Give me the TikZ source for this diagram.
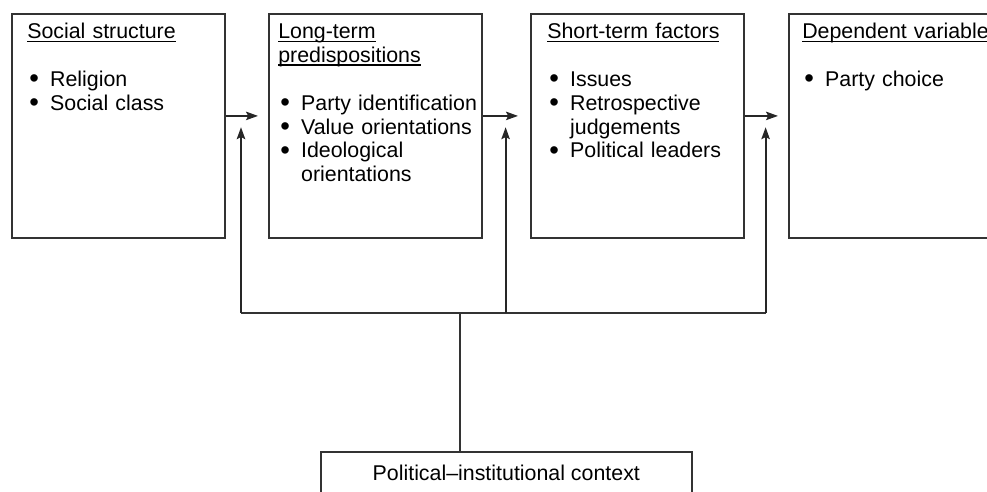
\documentclass[tikz,border=0pt]{standalone}
\usepackage{fontspec}
\setmainfont{Liberation Sans}
\usetikzlibrary{arrows.meta}

% underlined box heading and list bullets
\newcommand\boxhead[1]{\leavevmode\setbox0\hbox{#1}\rlap{\rule[-0.15em]{\wd0}{0.07em}}\box0}
\newcommand\itm{\makebox[1.07em][l]{\hspace{0.1em}\smash{\raisebox{-0.9pt}{\fontsize{19.5}{19.5}\selectfont\textbullet}}}}
\newcommand\cont{\hspace*{1.07em}}

\begin{document}
\begin{tikzpicture}[
  font=\fontsize{15.2}{16.9}\selectfont,
  box/.style={draw=black!80, line width=1.3pt, minimum width=5.33cm, minimum height=5.6cm, inner sep=0pt, anchor=north west},
  txt/.style={anchor=base west, align=left, text width=5.2cm, inner sep=0pt},
  arr/.style={draw=black!85, line width=1.3pt, -{Stealth[length=8.5pt,width=6pt,inset=1.5pt]}},
  link/.style={draw=black!80, line width=1.3pt}
]
\useasboundingbox (0,0) rectangle (24.675,-12.3);
\clip (0,0) rectangle (24.675,-12.3);

% the four boxes in a row
\node[box] (social) at (0.275,-0.325) {};
\node[txt] (socialtxt) at (0.675,-0.975) {\boxhead{Social structure}\\ ~\\ \itm Religion\\ \itm Social class};
\node[box] (longterm) at (6.7,-0.325) {};
\node[txt] (longtermtxt) at (6.95,-0.975) {\boxhead{Long-term}\\ \boxhead{predispositions}\\ ~\\ \itm Party identification\\ \itm Value orientations\\ \itm Ideological\\ \cont orientations};
\node[box] (shortterm) at (13.25,-0.325) {};
\node[txt] (shorttermtxt) at (13.675,-0.975) {\boxhead{Short-term factors}\\ ~\\ \itm Issues\\ \itm Retrospective\\ \cont judgements\\ \itm Political leaders};
\node[box] (dependent) at (19.7,-0.325) {};
\node[txt] (dependenttxt) at (20.05,-0.975) {\boxhead{Dependent variable}\\ ~\\ \itm Party choice};

% context box at the bottom
\node[box, minimum width=9.27cm, minimum height=1.7cm] (context) at (8.0,-11.27) {};
\node[anchor=base] (contexttxt) at ([yshift=-0.733cm]context.north) {Political--institutional context};

% arrows between the boxes
\draw[arr] ([yshift=0.25cm]social.east) -- ([xshift=-0.25cm,yshift=0.25cm]longterm.west);
\draw[arr] ([yshift=0.25cm]longterm.east) -- ([xshift=-0.3cm,yshift=0.25cm]shortterm.west);
\draw[arr] ([yshift=0.25cm]shortterm.east) -- ([xshift=-0.25cm,yshift=0.25cm]dependent.west);

% feedback lines from the context
\coordinate (bus1) at (6.025,-7.825);
\coordinate (bus2) at (12.64,-7.825);
\coordinate (bus3) at (19.14,-7.825);
\coordinate (hub) at (11.5,-7.825);
\coordinate (in1) at (6.025,-3.18);
\coordinate (in2) at (12.64,-3.18);
\coordinate (in3) at (19.14,-3.18);
\draw[link] (bus1) -- (bus3);
\draw[link] (context.north -| hub) -- (hub);
\draw[arr] (bus1) -- (in1);
\draw[arr] (bus2) -- (in2);
\draw[arr] (bus3) -- (in3);
\end{tikzpicture}
\end{document}
